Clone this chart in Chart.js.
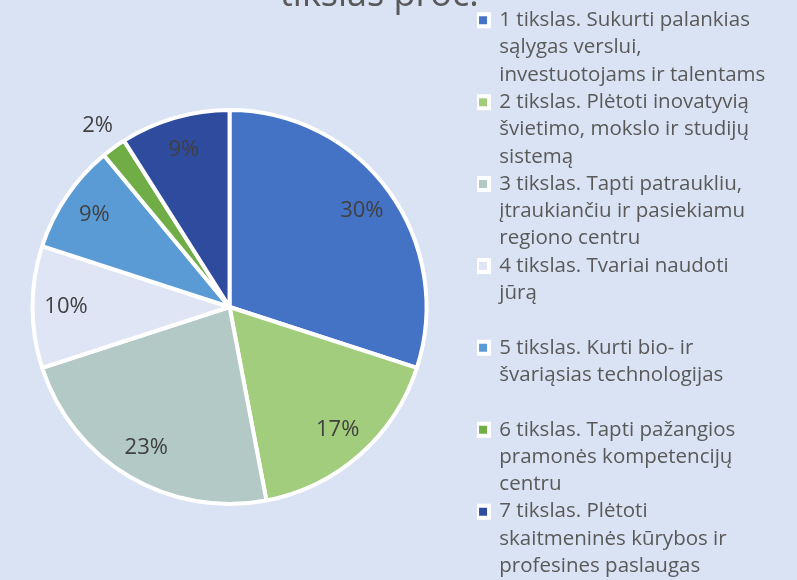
<!DOCTYPE html>
<html lang="lt">
<head>
<meta charset="UTF-8">
<title>Tikslai, proc.</title>
<script src="https://cdn.jsdelivr.net/npm/chart.js"></script>
<style>
  html, body { margin: 0; padding: 0; width: 797px; height: 580px; overflow: hidden; background: #dae3f3; }
  #wrap { position: absolute; left: -18px; top: -40px; width: 820px; height: 644px; }
</style>
</head>
<body>
<div id="wrap"><canvas id="myChart"></canvas></div>
<script>
// duomenys
const titleText = 'tikslas proc.\u00a0';
const goalLabels = [
  ['1 tikslas. Sukurti palankias', 'sąlygas verslui,', 'investuotojams ir talentams'],
  ['2 tikslas. Plėtoti inovatyvią', 'švietimo, mokslo ir studijų', 'sistemą'],
  ['3 tikslas. Tapti patraukliu,', 'įtraukiančiu ir pasiekiamu', 'regiono centru'],
  ['4 tikslas. Tvariai naudoti', 'jūrą', ''],
  ['5 tikslas. Kurti bio- ir', 'švariąsias technologijas', ''],
  ['6 tikslas. Tapti pažangios', 'pramonės kompetencijų', 'centru'],
  ['7 tikslas. Plėtoti', 'skaitmeninės kūrybos ir', 'profesines paslaugas']
];
const shares = [30, 17, 23, 10, 9, 2, 9];
const colors = ['#4472c4', '#a2cd7c', '#b2c9c6', '#e0e5f5', '#5b9bd5', '#70ad47', '#2f4b9d'];

// procentų užrašai ant skilčių
const pieLabels = {
  id: 'pieLabels',
  afterDatasetsDraw(chart) {
    const ctx = chart.ctx;
    const meta = chart.getDatasetMeta(0);
    ctx.save();
    ctx.font = '22px "Open Sans"';
    ctx.fillStyle = '#404040';
    ctx.textAlign = 'center';
    ctx.textBaseline = 'middle';
    meta.data.forEach((arc, i) => {
      const p = arc.getProps(['startAngle', 'endAngle', 'outerRadius', 'x', 'y'], true);
      const mid = (p.startAngle + p.endAngle) / 2;
      const r = p.outerRadius * (shares[i] < 5 ? 1.14 : 0.83);
      ctx.fillText(shares[i] + '%', p.x + Math.cos(mid) * r, p.y + Math.sin(mid) * r);
    });
    ctx.restore();
  }
};

// legenda matuoja ilgiausią eilutę pagal simbolių skaičių,
// todėl eilutes išlyginame, kad nebūtų nukirptas tekstas
function legendLabels(chart) {
  const items = Chart.overrides.pie.plugins.legend.labels.generateLabels(chart);
  items.forEach(item => {
    const n = Math.max(...item.text.map(s => s.length)) + 1;
    item.text = item.text.map(s => s.padEnd(n, ' '));
  });
  return items;
}

const ctx = document.getElementById('myChart').getContext('2d');
new Chart(ctx, {
  type: 'pie',
  data: {
    labels: goalLabels,
    datasets: [{
      data: shares,
      backgroundColor: colors,
      borderColor: '#ffffff',
      borderWidth: 4,
      radius: 197
    }]
  },
  options: {
    responsive: true,
    maintainAspectRatio: false,
    animation: false,
    events: [],
    layout: { padding: { top: 0, left: 0, bottom: 0, right: 16 } },
    plugins: {
      title: {
        display: true,
        text: titleText,
        color: '#595959',
        font: { family: 'Open Sans', size: 36, weight: 'normal', lineHeight: '24px' },
        padding: { top: 24, bottom: 2 }
      },
      legend: {
        position: 'right',
        align: 'start',
        fullSize: false,
        labels: {
          boxWidth: 12,
          boxHeight: 12,
          padding: 0,
          color: '#595959',
          font: { family: 'Open Sans', size: 20.5, lineHeight: '27.3px' },
          generateLabels: legendLabels
        }
      },
      tooltip: { enabled: false }
    }
  },
  plugins: [pieLabels]
});
</script>
</body>
</html>
